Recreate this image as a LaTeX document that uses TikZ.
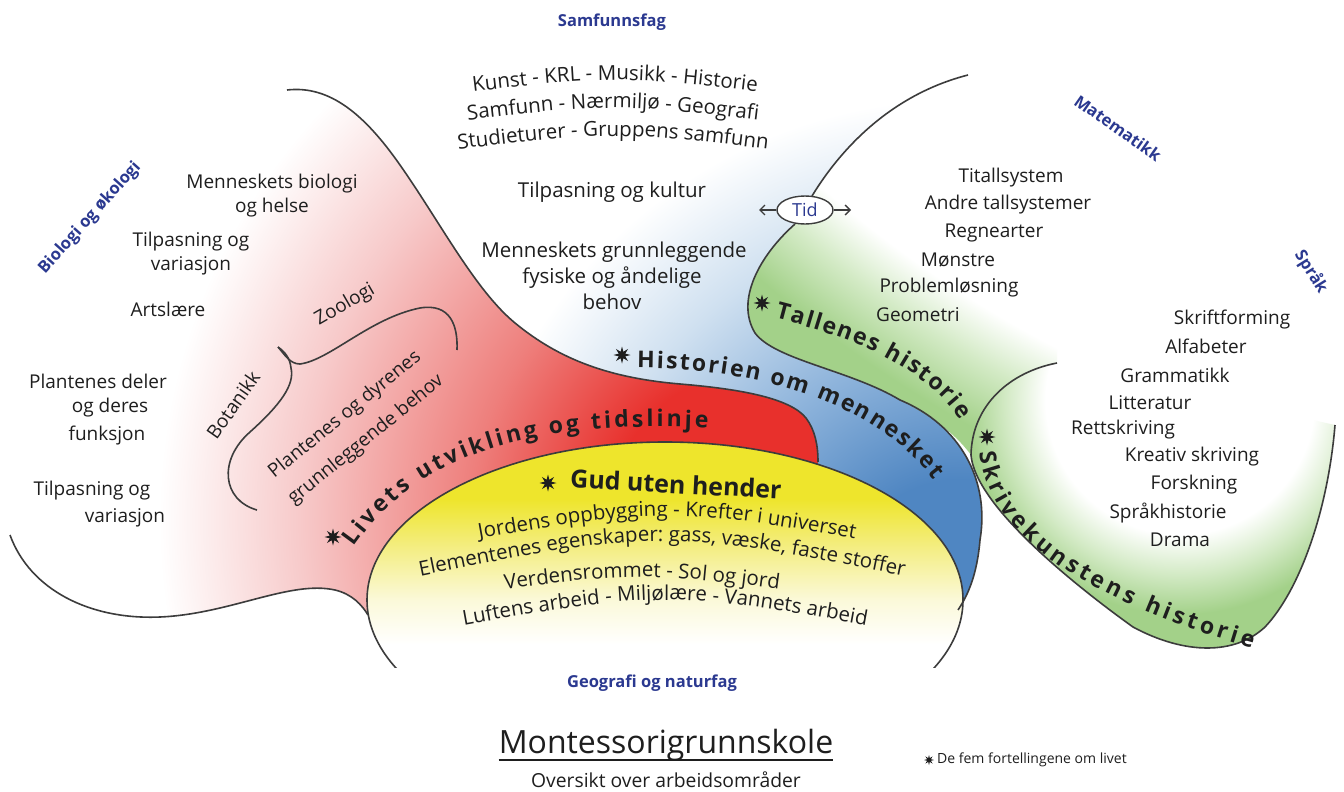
\documentclass[tikz,border=0pt]{standalone}
\usepackage{fontspec}
\setmainfont{Open Sans}
\usetikzlibrary{decorations.text,shapes.geometric,arrows.meta}

\definecolor{ink}{HTML}{1E1E1E}
\definecolor{navy}{HTML}{2B3990}
\definecolor{outl}{HTML}{3C3C3C}
\definecolor{rcore}{HTML}{E8302C}
\definecolor{rmid}{HTML}{EE7F7C}
\definecolor{rlight}{HTML}{F7CACA}
\definecolor{bcore}{HTML}{4F86C2}
\definecolor{bmid}{HTML}{8DB3DB}
\definecolor{blight}{HTML}{CFE0F0}
\definecolor{gcore}{HTML}{A3D189}
\definecolor{glight}{HTML}{D3EAC5}
\definecolor{ycore}{HTML}{EEE52C}
\definecolor{ymid}{HTML}{F4EE86}
\definecolor{ylight}{HTML}{FBF9D9}

% radial shadings: 25bp corresponds to the radius of the shaded circle
\pgfdeclareradialshading{redfade}{\pgfpoint{0bp}{0bp}}{color(0bp)=(rcore); color(4.2bp)=(rcore); color(8.05bp)=(rmid); color(12.8bp)=(rlight); color(16.7bp)=(white); color(50bp)=(white)}
\pgfdeclareradialshading{bluefade}{\pgfpoint{0bp}{0bp}}{color(0bp)=(bcore); color(4.3bp)=(bcore); color(8.9bp)=(bmid); color(13.6bp)=(blight); color(17.9bp)=(white); color(50bp)=(white)}
\pgfdeclareradialshading{gafade}{\pgfpoint{0bp}{0bp}}{color(0bp)=(white); color(21.07bp)=(white); color(21.96bp)=(glight); color(23.04bp)=(gcore); color(50bp)=(gcore)}
\pgfdeclareradialshading{gbfade}{\pgfpoint{0bp}{0bp}}{color(0bp)=(white); color(8.4bp)=(white); color(10.9bp)=(glight); color(13.4bp)=(gcore); color(50bp)=(gcore)}
\pgfdeclareverticalshading{yelfade}{100bp}{color(0bp)=(white); color(43bp)=(white); color(50bp)=(ylight); color(58bp)=(ymid); color(66bp)=(ycore); color(100bp)=(ycore)}

\newcommand\bodyf{\fontsize{19}{24}\selectfont}
\newcommand\midf{\fontsize{20.5}{25}\selectfont}
\newcommand\bandf{\fontsize{23}{27}\selectfont\bfseries}
\newcommand\gudf{\fontsize{25}{30}\selectfont\bfseries}
\newcommand\labf{\fontsize{16.5}{20}\selectfont\bfseries}
\newcommand\titf{\fontsize{32}{38}\selectfont}
\newcommand\subtf{\fontsize{19.3}{24}\selectfont}
\newcommand\legf{\fontsize{14}{17}\selectfont}
\newcommand\tidf{\fontsize{18}{20}\selectfont}

\tikzset{
  txt/.style={font=\bodyf, text=ink, inner sep=0pt, align=center},
  mtxt/.style={font=\midf, text=ink, inner sep=0pt, align=center},
  lab/.style={font=\labf, text=navy, inner sep=0pt},
  outline/.style={draw=outl, line width=1.6pt},
  starmark/.style={star, star points=8, star point ratio=2.4, fill=ink, draw=none, minimum size=17pt, inner sep=0pt},
  tidarrow/.style={draw=outl, line width=1.3pt, -{Straight Barb[length=5pt,width=10pt]}}
}

\begin{document}
\begin{tikzpicture}[x=1pt,y=-1pt]
\useasboundingbox (0,0) rectangle (1344,792);
\fill[white] (0,0) rectangle (1344,792);

% blue region
\begin{scope}
\clip (287,90) .. controls (330,85) and (365,115) .. (400,165) .. controls (440,222) and (475,290) .. (515,323) .. controls (560,360) and (610,378) .. (680,384) -- (830,480) -- (940,600) -- (958,610) .. controls (968,595) and (977,575) .. (980,540) .. controls (990,480) and (960,425) .. (900,400) .. controls (850,370) and (775,360) .. (755,333) .. controls (735,300) and (760,255) .. (795,224) -- (812,196) .. controls (840,150) and (890,95) .. (968,75) -- (968,40) -- (287,40) -- cycle;
\shade[shading=bluefade] (960,600) circle[radius=700pt];
\end{scope}

% green A (Tallenes)
\begin{scope}
\clip (795,224) .. controls (760,255) and (735,300) .. (755,333) .. controls (775,360) and (850,370) .. (900,400) .. controls (940,420) and (960,440) .. (971,455) .. controls (972,405) and (1010,372) .. (1057,363) -- (1057,300) -- (1200,300) -- (1200,40) -- (968,40) -- (968,75) .. controls (890,95) and (840,150) .. (812,196) -- cycle;
\shade[shading=gafade] (1600,-700) circle[radius=1400pt];
\end{scope}

% green B (Skrivekunstens)
\begin{scope}
\clip (1057,363) .. controls (1010,372) and (972,405) .. (971,455) .. controls (975,505) and (1073,584) .. (1133,627) .. controls (1185,655) and (1235,655) .. (1265,627) .. controls (1300,590) and (1328,510) .. (1335,425) -- cycle;
\shade[shading=gbfade] (1180,400) circle[radius=400pt];
\end{scope}

% red region
\begin{scope}
\clip (10,535) .. controls (30,590) and (90,620) .. (160,617) .. controls (230,614) and (290,580) .. (335,590) .. controls (352,594) and (362,605) .. (368,615) -- (500,500) -- (818,475) -- (818,462) .. controls (818,445) and (815,430) .. (806,418) .. controls (790,398) and (740,389) .. (680,384) .. controls (610,378) and (560,360) .. (515,323) .. controls (475,290) and (440,222) .. (400,165) .. controls (365,115) and (330,85) .. (287,90) -- (0,90) -- (0,535) -- cycle;
\shade[shading=redfade] (760,520) circle[radius=900pt];
\end{scope}

% yellow
\begin{scope}
\clip (0,0) rectangle (1344,667);
\shade[shading=yelfade] (665,600) ellipse[x radius=298, y radius=158];
\draw[outline] (665,600) ellipse[x radius=298, y radius=158];
\end{scope}

% outlines
\draw[outline] (287,90) .. controls (330,85) and (365,115) .. (400,165) .. controls (440,222) and (475,290) .. (515,323) .. controls (560,360) and (610,378) .. (680,384) .. controls (740,389) and (790,398) .. (806,418) .. controls (815,430) and (818,445) .. (818,462);
\draw[outline] (10,535) .. controls (30,590) and (90,620) .. (160,617) .. controls (230,614) and (290,580) .. (335,590) .. controls (352,594) and (362,605) .. (368,615);
\draw[outline] (795,224) .. controls (760,255) and (735,300) .. (755,333) .. controls (775,360) and (850,370) .. (900,400) .. controls (960,425) and (990,480) .. (980,540) .. controls (977,575) and (968,595) .. (958,610);
\draw[outline] (812,196) .. controls (840,150) and (890,95) .. (968,75);
\draw[outline] (1057,363) .. controls (1010,372) and (972,405) .. (971,455) .. controls (975,505) and (1073,584) .. (1133,627) .. controls (1185,655) and (1235,655) .. (1265,627) .. controls (1300,590) and (1328,510) .. (1335,425);

% brace
\draw[outline] (257,510) .. controls (222,500) and (218,460) .. (250,432) .. controls (280,405) and (295,385) .. (291,368) .. controls (290,358) and (285,352) .. (278,347);
\draw[outline] (278,347) .. controls (285,355) and (290,364) .. (300,364) .. controls (330,360) and (370,318) .. (420,308) .. controls (450,303) and (458,325) .. (457,350);

% Tid
\node[ellipse, draw=outl, line width=1.4pt, fill=white, minimum width=56pt, minimum height=28pt, inner sep=0pt, font=\tidf, text=navy] (tid) at (805,210) {Tid};
\coordinate (tidL) at (759,210);
\coordinate (tidR) at (851,210);
\draw[tidarrow] (tid.west) -- (tidL);
\draw[tidarrow] (tid.east) -- (tidR);

% subject labels
\node[lab] (samf) at (612,22) {Samfunnsfag};
\node[lab, rotate=-35] (mat) at (1118,128) {Matematikk};
\node[lab, rotate=-58] (spr) at (1311,272) {Språk};
\node[lab, rotate=48] (bio) at (90,218) {Biologi og økologi};
\node[lab] (geo) at (652,683) {Geografi og naturfag};

% samfunnsfag texts
\path[decorate, decoration={text along path, text align=center, text color=ink, text={|\midf|Kunst - KRL - Musikk - Historie}}] (420,98) .. controls (615,74) .. (810,98);
\path[decorate, decoration={text along path, text align=center, text color=ink, text={|\midf|Samfunn - Nærmiljø - Geografi}}] (420,126) .. controls (613,102) .. (806,126);
\path[decorate, decoration={text along path, text align=center, text color=ink, text={|\midf|Studieturer - Gruppens samfunn}}] (420,154) .. controls (613,130) .. (806,154);
\node[mtxt] (tk) at (612,192) {Tilpasning og kultur};
\node[mtxt] (mg1) at (614,252) {Menneskets grunnleggende};
\node[mtxt] (mg2) at (612,278) {fysiske og åndelige};
\node[mtxt] (mg3) at (612,302) {behov};

% matematikk
\node[txt] (m1) at (1011,178) {Titallsystem};
\node[txt] (m2) at (1008,205) {Andre tallsystemer};
\node[txt] (m3) at (994,233) {Regnearter};
\node[txt] (m4) at (958,260) {Mønstre};
\node[txt] (m5) at (949,288) {Problemløsning};
\node[txt] (m6) at (918,315) {Geometri};

% språk
\node[txt] (l1) at (1232,320) {Skriftforming};
\node[txt] (l2) at (1206,346) {Alfabeter};
\node[txt] (l3) at (1175,375) {Grammatikk};
\node[txt] (l4) at (1150,403) {Litteratur};
\node[txt] (l5) at (1123,430) {Rettskriving};
\node[txt] (l6) at (1192,457) {Kreativ skriving};
\node[txt] (l7) at (1194,485) {Forskning};
\node[txt] (l8) at (1168,513) {Språkhistorie};
\node[txt] (l9) at (1180,540) {Drama};

% biologi
\node[txt] (b1) at (272,196) {Menneskets biologi\\og helse};
\node[txt] (b2) at (191,254) {Tilpasning og\\variasjon};
\node[txt] (b3) at (168,309) {Artslære};
\node[txt] (b4) at (98,381) {Plantenes deler};
\node[txt] (b5) at (110,408) {og deres};
\node[txt] (b6) at (107,436) {funksjon};
\node[txt] (b7) at (92,491) {Tilpasning og};
\node[txt] (b8) at (125,518) {variasjon};
\node[txt, rotate=30] (zoo) at (345,305) {Zoologi};
\node[txt, rotate=55] (bot) at (233,405) {Botanikk};
\node[txt, rotate=39] (pd1) at (345,415) {Plantenes og dyrenes};
\node[txt, rotate=39] (pd2) at (366,440) {grunnleggende behov};

% band titles
\path[decorate, decoration={text along path, text align={fit to path}, text color=ink, text={|\bandf|Livets utvikling og tidslinje}}] (354,547) .. controls (408,470) and (500,418) .. (708,428);
\path[decorate, decoration={text along path, text align={fit to path}, text color=ink, text={|\bandf|Historien om mennesket}}] (637,368) .. controls (740,368) and (870,395) .. (934,480);
\path[decorate, decoration={text along path, text align={fit to path}, text color=ink, text={|\bandf|Tallenes historie}}] (775,318) .. controls (840,335) and (920,360) .. (960,420);
\path[decorate, decoration={text along path, text align={fit to path}, text color=ink, text={|\bandf|Skrivekunstens historie}}] (980,452) .. controls (988,530) and (1070,595) .. (1252,648);

% stars
\node[starmark] (s1) at (333,537) {};
\node[starmark] (s2) at (622,355) {};
\node[starmark] (s3) at (762,303) {};
\node[starmark] (s4) at (987,437) {};
\node[starmark] (s5) at (548,483) {};
\node[starmark, minimum size=10pt] (s6) at (929,760) {};

% yellow texts
\node[font=\gudf, text=ink, inner sep=0pt, rotate=-3] (gud) at (676,484) {Gud uten hender};
\path[decorate, decoration={text along path, text align=center, text color=ink, text={|\midf|Jordens oppbygging - Krefter i universet}}] (407,552) .. controls (667,504) .. (927,552);
\path[decorate, decoration={text along path, text align=center, text color=ink, text={|\midf|Elementenes egenskaper: gass, væske, faste stoffer}}] (372,586) .. controls (662,526) .. (952,586);
\path[decorate, decoration={text along path, text align=center, text color=ink, text={|\midf|Verdensrommet - Sol og jord}}] (442,598) .. controls (642,570) .. (842,598);
\path[decorate, decoration={text along path, text align=center, text color=ink, text={|\midf|Luftens arbeid - Miljølære - Vannets arbeid}}] (405,636) .. controls (665,588) .. (925,636);

% title
\node[font=\titf, text=ink, inner sep=0pt] (mt) at (666,745) {Montessorigrunnskole};
\draw[ink, line width=2.2pt] ([yshift=-7pt]mt.base west) -- ([yshift=-7pt]mt.base east);
\node[font=\subtf, text=ink, inner sep=0pt] (ov) at (666,780) {Oversikt over arbeidsområder};
\node[font=\legf, text=ink, inner sep=0pt, anchor=west] (leg) at (937,760) {De fem fortellingene om livet};
\end{tikzpicture}
\end{document}
